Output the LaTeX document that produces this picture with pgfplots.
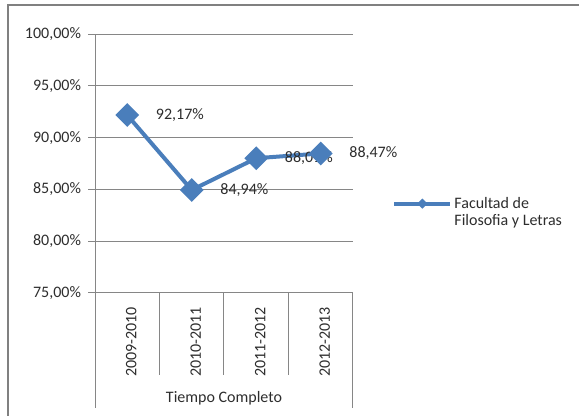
\documentclass[border=0pt]{standalone}
\usepackage{pgfplots}
\pgfplotsset{compat=1.18}
\usepackage{fontspec}
\setmainfont{Carlito}
\definecolor{excelblue}{RGB}{74,126,187}
\definecolor{gridgray}{RGB}{134,134,134}
\definecolor{framegray}{RGB}{128,128,128}
\definecolor{txt}{RGB}{45,45,45}
\begin{document}
\begin{tikzpicture}
\useasboundingbox (0,0) rectangle (289.5pt,-208pt);
\draw[framegray, line width=1pt] (4pt,-215pt) -- (4pt,-2.5pt) -- (295pt,-2.5pt);
\begin{axis}[
  at={(47.5pt,-146.5pt)}, anchor=south west,
  scale only axis, width=129pt, height=129.5pt,
  xmin=0.5, xmax=4.5, ymin=75, ymax=100,
  clip=false,
  axis lines*=left,
  axis line style={gridgray, line width=0.5pt},
  ytick={75,80,85,90,95,100},
  yticklabels={{75,00\%},{80,00\%},{85,00\%},{90,00\%},{95,00\%},{100,00\%}},
  xtick={1,2,3,4},
  xticklabels={2009-2010,2010-2011,2011-2012,2012-2013},
  xtick style={draw=none},
  ytick style={gridgray, line width=0.5pt},
  ytick pos=left,
  tick align=outside,
  major tick length=3.5pt,
  ymajorgrids,
  grid style={gridgray, line width=0.5pt},
  tick label style={font=\fontsize{8}{9.6}\selectfont, text=txt},
  xticklabel style={rotate=90, anchor=east, yshift=-2pt},
  legend style={draw=none, fill=none, inner sep=0pt, at={(1.1512,0.386)}, anchor=north west,
    font=\fontsize{8}{9.6}\selectfont, text=txt, column sep=0pt,
    nodes={inner sep=1pt}},
  legend cell align=left,
  legend image code/.code={
    \draw[#1, mark=none] (0pt,0pt) -- (28pt,0pt);
    \draw[#1, mark size=0.8pt] plot coordinates {(14pt,0pt)};},
]
\draw[gridgray, line width=0.5pt] (axis cs:0.5,75) -- ([yshift=-57.5pt]axis cs:0.5,75);
\draw[gridgray, line width=0.5pt] (axis cs:4.5,75) -- ([yshift=-57.5pt]axis cs:4.5,75);
\draw[gridgray, line width=0.5pt] (axis cs:1.5,75) -- ([yshift=-41pt]axis cs:1.5,75);
\draw[gridgray, line width=0.5pt] (axis cs:2.5,75) -- ([yshift=-41pt]axis cs:2.5,75);
\draw[gridgray, line width=0.5pt] (axis cs:3.5,75) -- ([yshift=-41pt]axis cs:3.5,75);
\node[font=\fontsize{8}{9.6}\selectfont, text=txt] at ([yshift=-52.5pt]axis cs:2.5,75) {Tiempo Completo};
\addplot[color=excelblue, line width=2pt, mark=square*, mark size=3.2pt,
  mark options={rotate=45, solid},
  point meta=explicit symbolic, nodes near coords,
  every node near coord/.style={anchor=west, xshift=10pt, font=\fontsize{8}{9.6}\selectfont, text=txt}]
  coordinates {(1,92.17) [92,17\%] (2,84.94) [84,94\%] (3,88.01) [88,01\%] (4,88.47) [88,47\%]};
\addlegendentry{\begin{tabular}[t]{@{}l@{}}Facultad de\\[-1.5pt]Filosofia y Letras\end{tabular}}
\end{axis}
\end{tikzpicture}
\end{document}
